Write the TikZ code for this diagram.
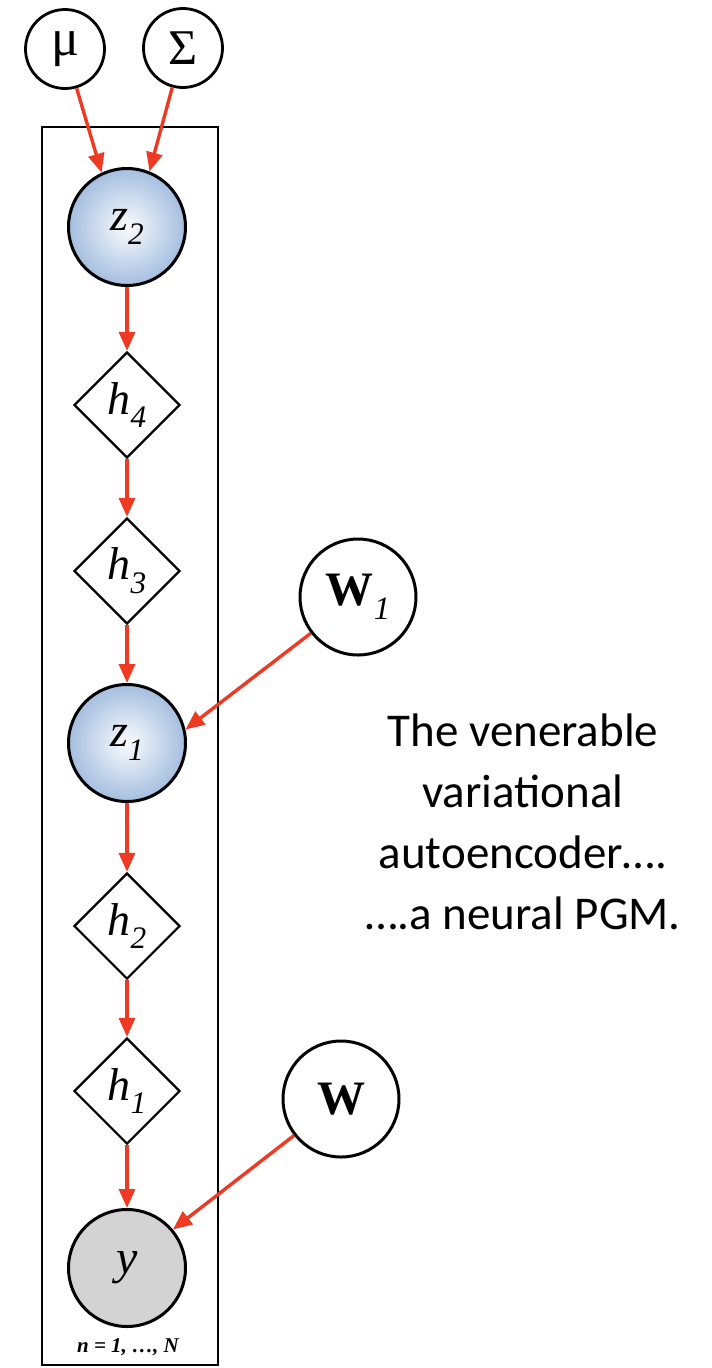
\documentclass[tikz,border=0pt]{standalone}
\usepackage{fontspec}
\usepackage{graphicx}
\setmainfont{Liberation Serif}
\newfontfamily\carl{Carlito}
\usetikzlibrary{shapes.geometric,arrows.meta}
\definecolor{arrred}{RGB}{238,58,34}
\definecolor{zblue}{RGB}{165,190,224}
\definecolor{ygray}{RGB}{211,211,211}
\newcommand\lsub[1]{\raisebox{-0.3em}{\scalebox{0.68}{#1}}}
\begin{document}
\begin{tikzpicture}[x=1pt,y=-1pt,
 var/.style={circle,draw=black,line width=3pt,minimum size=117pt,inner sep=0pt},
 latent/.style={var,inner color=white!94!zblue,outer color=zblue},
 obs/.style={var,fill=ygray},
 param/.style={circle,draw=black,line width=3pt,minimum size=116pt,inner sep=0pt,fill=white},
 hyper/.style={circle,draw=black,line width=2.8pt,minimum size=79pt,inner sep=0pt,fill=white},
 det/.style={diamond,draw=black,line width=2.2pt,minimum size=106pt,inner sep=0pt,fill=white},
 arr/.style={draw=arrred,line width=3.4pt,-{Triangle[length=19pt,width=16pt]}},
 plate/.style={draw=black,line width=2.2pt,inner sep=0pt,minimum width=176pt,minimum height=1238pt}]
\useasboundingbox (0,0) rectangle (712,1368);
\node[plate] (plate) at (130,746) {};
\node[hyper,font=\fontsize{52}{52}\selectfont] (mu) at (65,49) {μ};
\node[hyper,font=\fontsize{50}{50}\selectfont] (sigma) at (183,48) {Σ};
\node[latent,font=\fontsize{46}{46}\selectfont] (z2) at (127,227) {\itshape z\lsub{2}};
\node[det,font=\fontsize{46}{46}\selectfont] (h4) at (127,405) {\itshape h\lsub{4}};
\node[det,font=\fontsize{46}{46}\selectfont] (h3) at (127,571) {\itshape h\lsub{3}};
\node[latent,font=\fontsize{46}{46}\selectfont] (z1) at (127,743) {\itshape z\lsub{1}};
\node[det,font=\fontsize{46}{46}\selectfont] (h2) at (127,926) {\itshape h\lsub{2}};
\node[det,font=\fontsize{46}{46}\selectfont] (h1) at (127,1091) {\itshape h\lsub{1}};
\node[obs,font=\fontsize{48}{48}\selectfont] (y) at (127,1268) {\itshape y};
\node[param,font=\fontsize{48}{48}\selectfont] (W1) at (358,597) {\bfseries W\lsub{\mdseries\itshape 1}};
\node[param,font=\fontsize{48}{48}\selectfont] (W) at (341,1099) {\bfseries W};
\node[font=\fontsize{21}{21}\selectfont\bfseries\itshape] (plabel) at (128,1347) {n = 1, \dots, N};
\node[font=\carl\fontsize{47}{61}\selectfont,align=center] (caption) at (523,822)
  {The venerable\\variational\\autoencoder….\\….a neural PGM.};
\draw[arr] (mu) -- (z2.115);
\draw[arr] (sigma) -- (z2.68);
\draw[arr] (z2) -- (h4);
\draw[arr] (h4) -- (h3);
\draw[arr] (h3) -- (z1);
\draw[arr] (W1) -- (z1.13);
\draw[arr] (z1) -- (h2);
\draw[arr] (h2) -- (h1);
\draw[arr] (h1) -- (y);
\draw[arr] (W) -- (y.40);
\end{tikzpicture}
\end{document}
